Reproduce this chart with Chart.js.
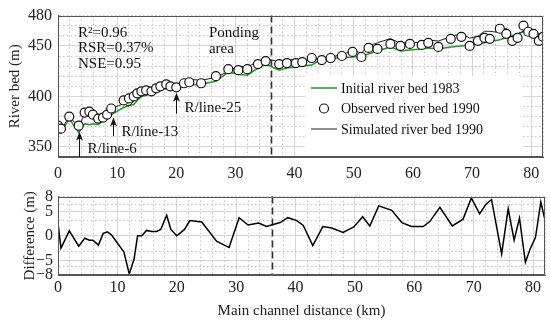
<!DOCTYPE html>
<html>
<head>
<meta charset="utf-8">
<script src="https://cdn.jsdelivr.net/npm/chart.js@4.4.1/dist/chart.umd.min.js"></script>
<style>
  body { margin: 0; background: #fff; }
  canvas { position: absolute; left: 0; }
  #top { top: 0; }
  #bottom { top: 182px; }
</style>
</head>
<body>
<canvas id="top" width="550" height="182"></canvas>
<canvas id="bottom" width="550" height="138"></canvas>
<script>
// stations along the main channel (km)
const distance = [0, 0.5, 1.9, 3.5, 4.5, 5.3, 5.9, 6.8, 7.6, 8.3, 9.0, 11.1, 12.0, 12.8, 13.4, 14.1, 14.9, 15.8, 16.6, 17.3,
  18.3, 19.0, 20.0, 21.3, 22.2, 24.2, 26.7, 28.8, 30.5, 32.0, 33.8, 35.1, 37.4, 38.7, 40.2, 41.3, 42.9, 44.6, 46.1, 48.0,
  49.8, 51.3, 52.5, 54.0, 56.2, 57.9, 59.5, 61.5, 62.6, 64.3, 66.4, 68.2, 69.6, 71.0, 72.1, 73.0, 74.7, 75.8, 76.8, 77.7,
  78.7, 79.5, 80.4, 81.3, 82.0];

const initialBed = [366, 364, 378, 364, 373, 372, 373, 372, 376, 378, 382, 389, 391, 392, 396, 400, 401, 403, 404, 406,
  408, 408, 409, 410, 411, 412, 415, 424, 422, 421, 428, 432, 426, 428, 429, 430, 431, 437, 438, 438,
  439, 440, 442, 445, 449, 445, 446, 447, 448, 447, 449, 450, 451, 452, 453, 454, 456, 458, 460, 462,
  464, 464, 462, 461, 460];

const observedBed = [371, 368, 380, 371, 384, 385, 382, 378, 379, 382, 388, 396, 398, 400, 403, 405, 406, 405, 408, 410,
  412, 410, 409, 413, 414, 413, 420, 427, 426, 427, 432, 435, 432, 433, 433, 434, 438, 436, 438, 440,
  444, 439, 448, 447, 452, 450, 452, 451, 453, 449, 457, 459, 450, 455, 458, 457, 467, 462, 455, 458,
  470, 464, 462, 455, 459];

const simulatedBed = [373.6, 365.5, 381.0, 368.9, 383.5, 384.1, 381.1, 376.1, 379.5, 382.8, 388.2, 392.7, 390.2, 395.2, 403.0, 405.0, 407.1, 405.9, 408.9, 411.3,
  416.2, 411.3, 409.0, 414.3, 417.1, 415.8, 418.9, 424.6, 429.7, 429.2, 434.6, 436.9, 434.7, 436.7, 436.1, 436.1, 436.0, 437.9, 439.6, 440.7,
  445.8, 442.9, 450.0, 453.1, 457.2, 452.7, 453.9, 452.9, 455.9, 454.8, 459.0, 462.4, 457.7, 459.5, 464.5, 464.4, 463.3, 467.5, 454.1, 461.6,
  464.6, 461.3, 461.7, 461.9, 463.2];

const difference = [2.6, -2.5, 1.0, -2.1, -0.5, -0.9, -0.9, -1.9, 0.5, 0.8, 0.2, -3.3, -7.8, -4.8, 0.0, 0.0, 1.1, 0.9, 0.9, 1.3,
  4.2, 1.3, 0.0, 1.3, 3.1, 2.8, -1.1, -2.4, 3.7, 2.2, 2.6, 1.9, 2.7, 3.7, 3.1, 2.1, -2.0, 1.9, 1.6, 0.7,
  1.8, 3.9, 2.0, 6.1, 5.2, 2.7, 1.9, 1.9, 2.9, 5.8, 2.0, 3.4, 7.7, 4.5, 6.5, 7.4, -3.7, 5.5, -0.9, 3.6,
  -5.4, -2.7, -0.3, 6.9, 3.2];

// axis ticks
const xTicks = [0, 2, 4, 6, 8, 10, 12, 14, 16, 18, 20, 22, 24, 26, 28, 30, 32, 34, 36, 38, 40, 42, 44, 46, 48, 50,
  52, 54, 56, 58, 60, 62, 64, 66, 68, 70, 72, 74, 76, 78, 80, 82];
const xLabels = [0, 10, 20, 30, 40, 50, 60, 70, 80];
const bedTicks = [340, 350, 360, 370, 380, 390, 400, 410, 420, 430, 440, 450, 460, 470, 480];
const bedLabels = [350, 400, 450, 480];
const diffTicks = [-8, -6.3, -5, -3.2, 0, 3.2, 5, 6.3, 8];
const diffLabels = [-8, -5, 0, 5, 8];

const pondingKm = 36;
const stats = ['R²=0.96', 'RSR=0.37%', 'NSE=0.95'];
// [km, tail (m), tip (m), label]
const sections = [
  [3.5, 340, 365, 'R/line-6'],
  [9.3, 360.5, 379, 'R/line-13'],
  [20.0, 383, 403.5, 'R/line-25']
];

const serif = 'Liberation Serif';
const green = '#1f9a1f';
const pts = (ys) => distance.map((x, i) => ({ x: x, y: ys[i] }));

function gridStyle(majors) {
  return {
    color: (c) => (c.tick && majors.includes(c.tick.value)) ? '#d6d6d6' : '#c4c4c4',
    lineWidth: 1,
    drawTicks: false
  };
}
function dashStyle(majors) {
  return {
    color: '#555',
    dash: (c) => (c.tick && majors.includes(c.tick.value)) ? [] : [1.5, 2.5]
  };
}

// frame + ponding line
const framePlugin = {
  id: 'framePlugin',
  beforeDatasetsDraw(chart) {
    const { ctx, chartArea: a, scales } = chart;
    const px = Math.round(scales.x.getPixelForValue(pondingKm)) + 0.5;
    ctx.save();
    ctx.strokeStyle = '#333';
    ctx.lineWidth = 1.6;
    ctx.setLineDash([7, 4]);
    ctx.beginPath();
    ctx.moveTo(px, a.top);
    ctx.lineTo(px, a.bottom);
    ctx.stroke();
    ctx.restore();
  },
  afterDraw(chart) {
    const { ctx, chartArea: a } = chart;
    ctx.save();
    ctx.strokeStyle = '#555';
    ctx.lineWidth = 1;
    ctx.strokeRect(Math.round(a.left) + 0.5, Math.round(a.top) + 0.5, Math.round(a.width) - 1, Math.round(a.height) - 1);
    ctx.restore();
  }
};

// text, arrows and legend of the upper panel
const notesPlugin = {
  id: 'notesPlugin',
  beforeDatasetsDraw(chart) {
    // legend box sits under the lines
    const { ctx, chartArea: a } = chart;
    ctx.save();
    ctx.fillStyle = '#fff';
    ctx.fillRect(305, 76, 218, a.bottom - 77);
    ctx.restore();
  },
  afterDraw(chart) {
    const { ctx, chartArea: a, scales } = chart;
    const x = scales.x, y = scales.y;
    ctx.save();
    ctx.fillStyle = '#111';
    ctx.font = '15px "' + serif + '"';
    ctx.textBaseline = 'middle';
    ctx.textAlign = 'left';
    stats.forEach((s, i) => ctx.fillText(s, a.left + 20, a.top + 17 + i * 15.5));

    const px = x.getPixelForValue(pondingKm);
    ctx.fillText('Ponding', px - 62, a.top + 17);
    ctx.fillText('area', px - 62, a.top + 33);

    sections.forEach(([km, from, to, label]) => {
      const sx = Math.round(x.getPixelForValue(km)) + 0.5;
      const y0 = Math.min(y.getPixelForValue(from), a.bottom);
      const y1 = y.getPixelForValue(to);
      ctx.strokeStyle = '#111';
      ctx.lineWidth = 1;
      ctx.beginPath();
      ctx.moveTo(sx, y0);
      ctx.lineTo(sx, y1 + 4);
      ctx.stroke();
      ctx.beginPath();
      ctx.moveTo(sx, y1);
      ctx.lineTo(sx - 3.5, y1 + 9);
      ctx.lineTo(sx, y1 + 6.5);
      ctx.lineTo(sx + 3.5, y1 + 9);
      ctx.closePath();
      ctx.fill();
      ctx.fillText(label, sx + 8, (y0 + y1) / 2 + 5);
    });

    // legend
    const rows = [88, 108.5, 129];
    const sets = chart.data.datasets;
    const order = [2, 0, 1];
    ctx.font = '14px "' + serif + '"';
    order.forEach((di, r) => {
      const ds = sets[di];
      const ry = rows[r];
      if (ds.showLine === false) {
        ctx.beginPath();
        ctx.arc(324, ry, ds.pointRadius, 0, Math.PI * 2);
        ctx.fillStyle = '#fff';
        ctx.fill();
        ctx.strokeStyle = ds.pointBorderColor;
        ctx.lineWidth = ds.pointBorderWidth;
        ctx.stroke();
      } else {
        ctx.strokeStyle = ds.borderColor;
        ctx.lineWidth = ds.borderWidth;
        ctx.beginPath();
        ctx.moveTo(311, ry);
        ctx.lineTo(337, ry);
        ctx.stroke();
      }
      ctx.fillStyle = '#111';
      ctx.fillText(ds.label, 341, ry + 1);
    });
    ctx.restore();
  }
};

const xScale = (showTitle) => ({
  type: 'linear',
  min: 0,
  max: 82,
  afterBuildTicks: (s) => { s.ticks = xTicks.map(v => ({ value: v })); },
  afterFit: (s) => { s.height = showTitle ? 45 : 25; },
  grid: gridStyle(xLabels),
  border: dashStyle(xLabels),
  ticks: {
    autoSkip: false,
    maxRotation: 0,
    padding: showTitle ? 3 : 7,
    color: '#222',
    font: { family: serif, size: 16 },
    callback: (v) => xLabels.includes(v) ? String(v) : ''
  },
  title: {
    display: showTitle,
    text: 'Main channel distance (km)',
    color: '#222',
    padding: { top: 2, bottom: 0 },
    font: { family: serif, size: 15 }
  }
});

const chartTop = new Chart(document.getElementById('top'), {
  type: 'line',
  data: {
    datasets: [
      {
        label: 'Observed river bed 1990',
        data: pts(observedBed),
        showLine: false,
        pointRadius: 4.5,
        pointBorderWidth: 1.2,
        pointBorderColor: '#111',
        pointBackgroundColor: '#fff',
        order: 0
      },
      {
        label: 'Simulated river bed 1990',
        data: pts(simulatedBed),
        borderColor: '#222',
        borderWidth: 1,
        pointRadius: 0,
        tension: 0,
        order: 1
      },
      {
        label: 'Initial river bed 1983',
        data: pts(initialBed),
        borderColor: green,
        borderWidth: 1.5,
        pointRadius: 0,
        tension: 0,
        order: 2
      }
    ]
  },
  options: {
    responsive: false,
    animation: false,
    layout: { padding: { left: 0, right: 5, top: 10, bottom: 0 } },
    plugins: { legend: { display: false }, tooltip: { enabled: false } },
    scales: {
      x: xScale(false),
      y: {
        min: 340,
        max: 480,
        afterBuildTicks: (s) => { s.ticks = bedTicks.map(v => ({ value: v })); },
        afterFit: (s) => { s.width = 58; },
        grid: gridStyle([350, 400, 450]),
        border: dashStyle([350, 400, 450]),
        ticks: {
          autoSkip: false,
          padding: 6,
          color: '#222',
          font: { family: serif, size: 16 },
          callback: (v) => bedLabels.includes(v) ? String(v) : ''
        },
        title: {
          display: true,
          text: 'River bed (m)',
          color: '#222',
          padding: { top: 6, bottom: 0 },
          font: { family: serif, size: 15 }
        }
      }
    }
  },
  plugins: [framePlugin, notesPlugin]
});

const chartBottom = new Chart(document.getElementById('bottom'), {
  type: 'line',
  data: {
    datasets: [{
      label: 'Difference',
      data: pts(difference),
      borderColor: '#000',
      borderWidth: 1.5,
      pointRadius: 0,
      tension: 0
    }]
  },
  options: {
    responsive: false,
    animation: false,
    layout: { padding: { left: 15, right: 5, top: 10, bottom: 0 } },
    plugins: { legend: { display: false }, tooltip: { enabled: false } },
    scales: {
      x: xScale(true),
      y: {
        min: -8,
        max: 8,
        afterBuildTicks: (s) => { s.ticks = diffTicks.map(v => ({ value: v })); },
        afterFit: (s) => { s.width = 43; },
        grid: gridStyle([-5, 0, 5]),
        border: dashStyle([-5, 0, 5]),
        ticks: {
          autoSkip: false,
          padding: 5,
          color: '#222',
          font: { family: serif, size: 16 },
          callback: (v) => diffLabels.includes(v) ? String(v).replace('-', '\u2212') : ''
        },
        title: {
          display: true,
          text: 'Difference (m)',
          color: '#222',
          padding: { top: 6, bottom: 0 },
          font: { family: serif, size: 15 }
        }
      }
    }
  },
  plugins: [framePlugin]
});
</script>
</body>
</html>
